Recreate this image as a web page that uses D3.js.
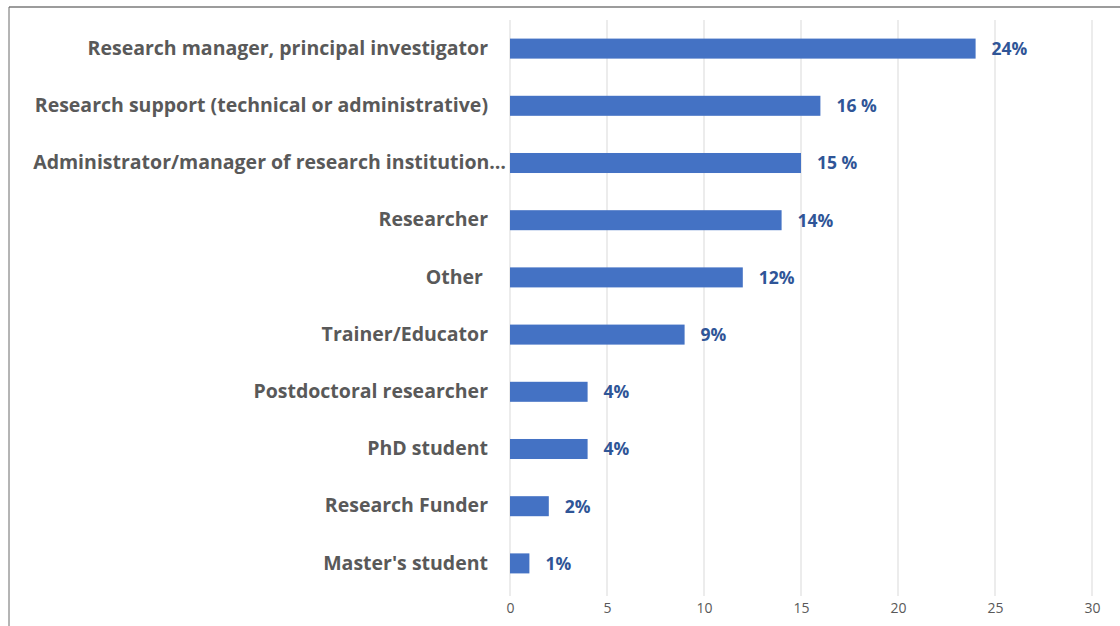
<!DOCTYPE html>
<html>
<head>
<meta charset="utf-8">
<script src="https://cdn.jsdelivr.net/npm/d3@7"></script>
<style>
  html, body { margin: 0; padding: 0; background: #fff; }
  svg { display: block; }
</style>
</head>
<body>
<svg id="chart" width="1120" height="626"></svg>
<script>
// Respondent roles, top to bottom
const categories = [
  "Research manager, principal investigator",
  "Research support (technical or administrative)",
  "Administrator/manager of research institution…",
  "Researcher",
  "Other ",
  "Trainer/Educator",
  "Postdoctoral researcher",
  "PhD student",
  "Research Funder",
  "Master's student"
];
const values = [24, 16, 15, 14, 12, 9, 4, 4, 2, 1];
const valueLabels = ["24%", "16 %", "15 %", "14%", "12%", "9%", "4%", "4%", "2%", "1%"];
const xTicks = [0, 5, 10, 15, 20, 25, 30];

const svg = d3.select("#chart");
const W = 1120, H = 626;
const plot = { left: 510, right: 1092, top: 20, bottom: 592 };

// frame lines along the top and left
svg.append("line").attr("x1", 9).attr("x2", W).attr("y1", 7).attr("y2", 7)
  .attr("stroke", "#3a3a3a").attr("stroke-width", 1.2);
svg.append("line").attr("x1", 9).attr("x2", 9).attr("y1", 7).attr("y2", H)
  .attr("stroke", "#6a6a6a").attr("stroke-width", 1);

const x = d3.scaleLinear().domain([0, 30]).range([plot.left, plot.right]);
const y = d3.scaleBand().domain(categories).range([plot.top, plot.bottom]).paddingInner(0.65).paddingOuter(0.325);

// vertical gridlines
svg.append("g").selectAll("line").data(xTicks).join("line")
  .attr("x1", d => x(d)).attr("x2", d => x(d))
  .attr("y1", plot.top).attr("y2", plot.bottom + 4)
  .attr("stroke", "#d9d9d9").attr("stroke-width", 1);

// bottom axis labels
const xAxis = d3.axisBottom(x).tickValues(xTicks).tickSize(0).tickPadding(0);
const gx = svg.append("g").attr("transform", `translate(0,${plot.bottom + 11})`).call(xAxis);
gx.select(".domain").remove();
gx.selectAll("text")
  .attr("dy", "0.71em")
  .attr("fill", "#595959")
  .style("font-family", "'Open Sans', 'Noto Sans', sans-serif")
  .style("font-size", "14px");

// category labels; the truncated one sits closer to the axis
const yAxis = d3.axisLeft(y).tickSize(0).tickPadding(22);
const gy = svg.append("g").attr("transform", `translate(${plot.left},0)`).call(yAxis);
gy.select(".domain").remove();
gy.selectAll("text")
  .attr("fill", "#595959")
  .attr("dx", d => d.endsWith("…") ? 18 : 0)
  .style("white-space", "pre")
  .style("font-family", "'Open Sans', 'Noto Sans', sans-serif")
  .style("font-weight", "700")
  .style("font-size", "19.5px");

// bars
svg.append("g").selectAll("rect").data(values).join("rect")
  .attr("x", x(0))
  .attr("y", (d, i) => y(categories[i]))
  .attr("width", d => x(d) - x(0))
  .attr("height", y.bandwidth())
  .attr("fill", "#4472c4");

// value labels
svg.append("g").selectAll("text").data(values).join("text")
  .attr("x", d => x(d) + 16)
  .attr("y", (d, i) => y(categories[i]) + y.bandwidth() / 2)
  .attr("dy", "0.36em")
  .attr("fill", "#2f5597")
  .style("font-family", "'Open Sans', 'Noto Sans', sans-serif")
  .style("font-weight", "700")
  .style("font-size", "17.5px")
  .text((d, i) => valueLabels[i]);
</script>
</body>
</html>
